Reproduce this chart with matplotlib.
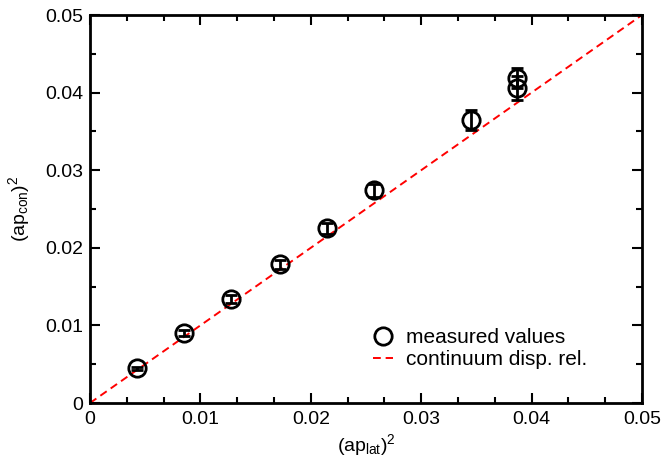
import matplotlib
matplotlib.use("Agg")
import matplotlib.pyplot as plt
from matplotlib.ticker import FixedLocator
from matplotlib.lines import Line2D

plt.rcParams['font.family'] = ['Liberation Sans', 'DejaVu Sans']
plt.rcParams['mathtext.fontset'] = 'custom'
plt.rcParams['mathtext.rm'] = 'Liberation Sans'
plt.rcParams['mathtext.it'] = 'Liberation Sans'

x_lat = [0.00427, 0.00855, 0.0128, 0.0172, 0.02145, 0.0257, 0.0345, 0.0387, 0.0387]
y_con = [0.0045, 0.0090, 0.01337, 0.01787, 0.0225, 0.0274, 0.0365, 0.0419, 0.0406]
y_err = [0.0002, 0.0004, 0.0005, 0.0006, 0.0007, 0.0008, 0.0013, 0.0013, 0.0015]
line_x = [0.0, 0.05]
ticks = [0.0, 0.01, 0.02, 0.03, 0.04, 0.05]
tick_labels = ['0', '0.01', '0.02', '0.03', '0.04', '0.05']

dash = (0, (4, 2.5))

fig = plt.figure(figsize=(6.63, 4.59), dpi=100)
ax = fig.add_axes([90/663, 1-403/459, (642-90)/663, (403-15)/459])

ax.plot(line_x, line_x, color='#ff0000', linestyle=dash, linewidth=1.4, zorder=2)
ax.errorbar(x_lat, y_con, yerr=y_err, fmt='o', mfc='none', mec='black', mew=2.0,
            ms=12.5, ecolor='black', elinewidth=2.0, capsize=4.5, capthick=2.0, zorder=3)

ax.set_xlim(0, 0.05)
ax.set_ylim(0, 0.05)
ax.set_xticks(ticks)
ax.set_yticks(ticks)
ax.set_xticklabels(tick_labels)
ax.set_yticklabels(tick_labels)
ax.xaxis.set_minor_locator(FixedLocator([i * 0.01 / 3 for i in range(16)]))
ax.yaxis.set_minor_locator(FixedLocator([i * 0.005 for i in range(11)]))
ax.tick_params(which='both', direction='in', top=True, right=True, width=1.5, labelsize=14)
ax.tick_params(which='major', length=7.5, pad=6)
ax.tick_params(which='minor', length=4)
ax.tick_params(axis='y', which='major', pad=5)
for s in ax.spines.values():
    s.set_linewidth(2.0)

ax.set_xlabel(r'(ap$_{\mathrm{lat}}$)$^2$', fontsize=14, labelpad=3)
ax.set_ylabel(r'(ap$_{\mathrm{con}}$)$^2$', fontsize=14, labelpad=9)

h_meas = Line2D([], [], linestyle='none', marker='o', mfc='none', mec='black', mew=2.0, ms=12.5)
h_line = Line2D([], [], color='#ff0000', linestyle=dash, linewidth=1.4)
leg = ax.legend([h_meas, h_line], ['measured values', 'continuum disp. rel.'],
                loc='lower right', bbox_to_anchor=(0.934, 0.039), frameon=False, fontsize=15,
                handlelength=1.0, handletextpad=0.58, labelspacing=0.15)

fig.savefig('out.png', dpi=100)
